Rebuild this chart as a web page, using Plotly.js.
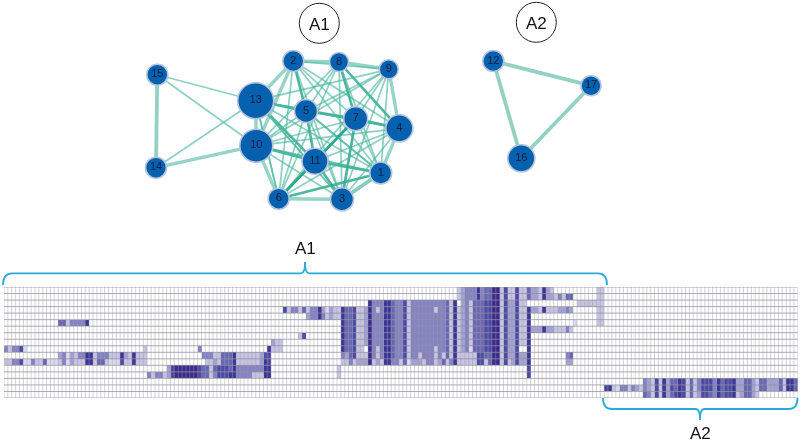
<!DOCTYPE html>
<html><head><meta charset="utf-8">
<script src="https://cdn.plot.ly/plotly-3.0.1.min.js"></script>
<style>html,body{margin:0;padding:0;background:#fff}#c{width:800px;height:443px;filter:blur(0.45px)}</style>
</head><body><div id="c"></div>
<script>
// network data (in page pixels)
const nodeIds   = [1,2,3,4,5,6,7,8,9,10,11,12,13,14,15,16,17];
const nodeX     = [380.7,293.3,342,399.3,306,278.7,355.7,339,388.7,256.3,315,493.3,255.7,156,157.3,521.3,591];
const nodeY     = [173,61,199.3,128.3,111,198.7,118.7,62,69.3,145.7,161.3,61,100.7,167.7,74.7,158.3,85.7];
const nodeRadius= [11.5,11,12,14,12,11,12.5,10,10,17,13.5,11,18.5,11,11,14,10.5];
const edgeFrom  = [2,8,9,4,1,3,6,10,13, 2,13,5,7,5,7,10,11,11,3,13,8,6,8, 2,2,2,2,2,2,2, 8,8,8,8,8, 9,9,9,9,9,9,9, 4,4,4,4,4,4, 1,1,1,1,1, 3,3,3,3, 6,6,6, 10,10,10,13,13,13,5,7,4,  15,15,15,14,14, 12,12,16];
const edgeTo    = [8,9,4,1,3,6,10,13,2, 5,5,7,4,11,11,11,6,1,11,11,7,1,4, 9,4,1,3,6,10,7, 5,1,3,6,10, 5,7,1,3,6,10,13, 5,3,6,10,13,11, 5,7,10,13,3, 5,7,10,13, 5,7,13, 5,7,1,7,6,3,1,3,13,  14,13,10,13,10, 17,16,17];
const edgeClass = [1,1,1,1,1,1,1,1,1, 2,2,2,2,2,2,2,2,2,2,2,2,2,2, 0,0,0,0,0,1,0, 0,0,0,0,0, 0,0,0,0,0,0,0, 0,0,0,0,0,0, 0,0,0,0,1, 0,2,0,0, 0,2,0, 0,0,0,0,0,0,0,0,0,  3,0,0,0,1, 3,3,3];

// matrix shading levels: each string is one row, each digit one column (groups of ten)
const matrixRows = [
"0000000000 0000000000 0000000000 0000000000 0000000000 0000000000 0000000000 0000000000 0000000000 0000000000 0000000000 0000000234 4474558826 2262253327 3200000000 0002200000 0000000000 0000000000 0000000000 0000000000 00000",
"0000000000 0000000000 0000000000 0000000000 0000000000 0000000000 0000000000 0000000000 0000000000 0000000000 0000000000 0000000234 4474558826 2262253327 3324255000 0002200000 0000000000 0000000000 0000000000 0000000000 00000",
"0000000000 0000000000 0000000000 0000000000 0000000000 0000000000 0000000000 0000000000 0000000000 0000844477 5446244444 4444527034 2555668826 3362200000 0000000022 2222200000 0000000000 0000000000 0000000000 0000000000 00000",
"0000000000 0000000000 0000000000 0000000000 0000000000 0000000000 0000000000 0062442524 4731322755 6223842477 5446244444 4244527234 2555668826 3362273327 2223343000 0002200000 0000000000 0000000000 0000000000 0000000000 00000",
"0000000000 0000000000 0000000000 0000000000 0000000000 0000000000 0000000000 0000000034 4742322755 6223844477 5446244444 4444527234 2555668826 3362270000 0000000000 0002200000 0000000000 0000000000 0000000000 0000000000 00000",
"0000000000 0000552444 4700000000 0000000000 0000000000 0000000000 0000000000 0000000000 0000000755 6223844477 5446244444 4444527234 2555668826 3362270000 0000000100 0002200000 0000000000 0000000000 0000000000 0000000000 00000",
"0000000000 0000000000 0000000000 0000000000 0000000000 0000000000 0000000000 0000000000 0000000755 6223844477 5446244444 4444527234 2555668826 3362273337 3322242000 0000000000 0000000000 0000000000 0000000000 0000000000 00000",
"0000000000 0000000000 0000000000 0000000000 0000000000 0000000000 0000000000 0000002600 0000000755 6223844477 5446244444 4444527234 2555668826 3362270000 0000000000 0000000000 0000000000 0000000000 0000000000 0000000000 00000",
"0000000000 0000000000 0000000000 0000000000 0000000000 0000000000 0000000003 2200000000 0000000755 6223844477 5446244444 4444527234 2555668826 3362270000 0000000000 0000000000 0000000000 0000000000 0000000000 0000000000 00000",
"4244610000 0000000000 0000000000 0000002000 0000000000 4000000000 0000000072 2200000000 0000000755 6220842477 5446244444 4244527234 1555668826 3360070000 0000000000 0000000000 0000000000 0000000000 0000000000 0000000000 00000",
"0000000000 0000341324 4772444222 7327222000 0000000000 0444225557 2222223660 0000000000 0000000435 6222842477 5446244244 4242527222 2266558826 3363370000 0000045000 0000000000 0000000000 0000000000 0000000000 0000000000 00000",
"2244611422 5111241322 2772552111 6227222000 0000000000 0022325557 2222223760 0000000000 0000000224 2333823277 4425133324 4235247222 2266258826 2363370000 0000033000 0000000000 0000000000 0000000000 0000000000 0000000000 00000",
"0000000000 0000000000 0000000000 0000000000 0036888888 6552566657 4444444770 0000000000 0000002000 0000000000 0000000000 0000000000 0000000000 0000060000 0000000000 0000000000 0000000000 0000000000 0000000000 0000000000 00000",
"0000000000 0000000000 0000000000 0000000424 4236888888 6552466677 4444222770 0000000000 0000002000 0000000000 0000000000 0000000000 0000000000 0000060000 0000000000 0000000000 0000000000 0000000000 0000000000 0000000000 00000",
"0000000000 0000000000 0000000000 0000000000 0000000000 0000000000 0000000000 0000000000 0000000000 0000000000 0000000000 0000000000 0000000000 0000000000 0000000000 0000000000 0000043262 7355762524 6664756673 3553255333 52775",
"0000000000 0000000000 0000000000 0000000000 0000000000 0000000000 0000000000 0000000000 0000000000 0000000000 0000000000 0000000000 0000000000 0000000000 0000000000 0000067214 4243243262 7365762524 6664756673 3553255333 52775",
"0000000000 0000000000 0000000000 0000000000 0000000000 0000000000 0000000000 0000000000 0000000000 0000000000 0000000000 0000000000 0000000000 0000000000 0000000000 0000000000 0000054262 7356762523 6654756672 3553200000 00000"
];
const shades = ["#ffffff","#dcdaef","#c6c3e3","#a3a1d4","#8482c5","#6967b4","#4d4aa7","#3c3698","#3a2a8c"];

// ---- styles and layout
const edgeStyle = [
  {width:1.7, color:"rgba(70,180,155,0.62)"},
  {width:3.4, color:"rgba(130,205,188,0.85)"},
  {width:2.6, color:"rgba(30,165,135,0.8)"},
  {width:3.8, color:"#93d2c3"}
];
const z = matrixRows.map(r => Array.from(r.replace(/ /g,"")).map(Number));
const nCols = z[0].length, nRows = z.length;
const traces = [];
traces.push({type:"heatmap", z:z, zmin:0, zmax:8, showscale:false, hoverinfo:"skip", zsmooth:false,
  colorscale:shades.map((c,i)=>[i/8,c]), xaxis:"x", yaxis:"y"});
const pos = id => nodeIds.indexOf(id);
edgeFrom.forEach((a,i)=>{
  const s = edgeStyle[edgeClass[i]], p=pos(a), q=pos(edgeTo[i]);
  traces.push({type:"scatter", mode:"lines", x:[nodeX[p],nodeX[q]], y:[nodeY[p],nodeY[q]],
    line:{width:s.width,color:s.color}, hoverinfo:"skip", xaxis:"x2", yaxis:"y2"});
});
traces.push({type:"scatter", mode:"markers+text", x:nodeX, y:nodeY, text:nodeIds.map(String),
  textposition:"middle center", textfont:{family:"Liberation Sans",size:11,color:"#071f47"},
  marker:{size:nodeRadius.map(r=>2*r-1), color:"#0560ae", opacity:1, line:{color:"#b4c4dc",width:1.6}},
  hoverinfo:"skip", xaxis:"x2", yaxis:"y2"});

const shapes = [];
for(let i=0;i<=nCols;i++) shapes.push({type:"line",xref:"x",yref:"y",x0:i-.5,x1:i-.5,y0:-.5,y1:nRows-.5,
  line:{color:"rgba(160,160,170,0.45)",width:1},layer:"above"});
for(let j=0;j<=nRows;j++) shapes.push({type:"line",xref:"x",yref:"y",x0:-.5,x1:nCols-.5,y0:j-.5,y1:j-.5,
  line:{color:"rgba(145,145,155,0.75)",width:1},layer:"above"});
const brace=(x0,x1,xm,y0,y1,yt)=>
  `M${x0},${y0} Q${x0},${y1} ${x0+9},${y1} L${xm-4},${y1} Q${xm},${y1} ${xm},${yt} Q${xm},${y1} ${xm+4},${y1} L${x1-9},${y1} Q${x1},${y1} ${x1},${y0}`;
const blue="#2aa9dc";
shapes.push({type:"path",xref:"x2",yref:"y2",path:brace(3,607,305,285,273.3,262),line:{color:blue,width:1.8}});
shapes.push({type:"path",xref:"x2",yref:"y2",path:brace(603,797.5,700,398,409,420),line:{color:blue,width:1.8}});
shapes.push({type:"circle",xref:"x2",yref:"y2",x0:299.3,x1:339.3,y0:3.3,y1:43.3,line:{color:"#222",width:1},fillcolor:"#fff"});
shapes.push({type:"circle",xref:"x2",yref:"y2",x0:516.3,x1:556.3,y0:2.3,y1:42.3,line:{color:"#222",width:1},fillcolor:"#fff"});
const label=(t,x,y)=>({text:t,x:x,y:y,xref:"x2",yref:"y2",showarrow:false,xanchor:"center",yanchor:"middle",
  font:{family:"Liberation Sans",size:17,color:"#111"}});
const layout={width:800,height:443,margin:{l:0,r:0,t:0,b:0},paper_bgcolor:"#fff",plot_bgcolor:"rgba(0,0,0,0)",showlegend:false,
  xaxis:{domain:[4/800,797.8/800],range:[-.5,nCols-.5],visible:false,fixedrange:true},
  yaxis:{domain:[1-398/443,1-287/443],range:[nRows-.5,-.5],visible:false,fixedrange:true},
  xaxis2:{domain:[0,1],range:[0,800],visible:false,anchor:"y2"},
  yaxis2:{domain:[0,1],range:[443,0],visible:false,anchor:"x2"},
  shapes:shapes,
  annotations:[label("A1",319.3,24),label("A2",536.3,23),label("A1",305,248),label("A2",700,433)]};
Plotly.newPlot("c",traces,layout,{displayModeBar:false,staticPlot:true});
</script></body></html>
